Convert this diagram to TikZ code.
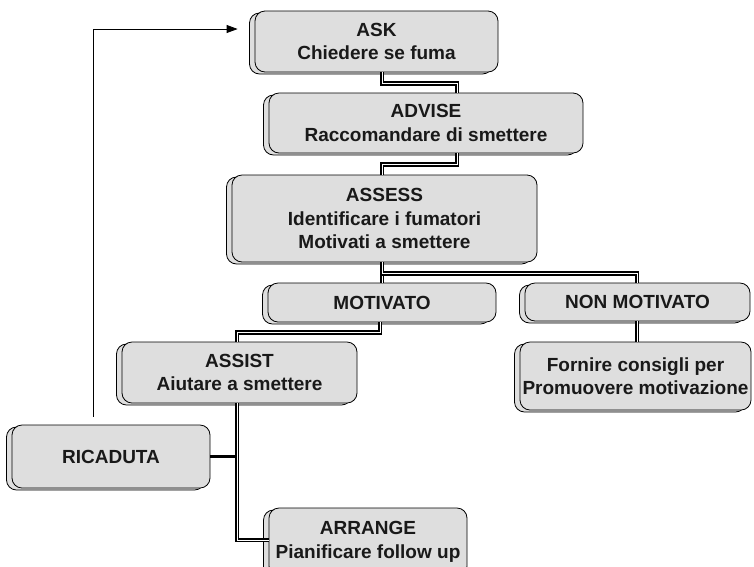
\documentclass[tikz,border=0pt]{standalone}
\usepackage{fontspec}
\setmainfont{Liberation Sans}
\usetikzlibrary{shadows,arrows.meta,calc}
\begin{document}
\begin{tikzpicture}[x=1pt,y=-1pt,
  box/.style={draw=black, line width=0.8pt, fill=black!13, rounded corners=10pt,
    align=center, inner sep=0pt, text=black!90,
    font=\fontsize{19}{23.5}\selectfont\bfseries,
    copy shadow={shadow xshift=-5.5pt, shadow yshift=-2pt, fill=black!13, draw=black, line width=0.8pt}},
  conn/.style={draw=black, line width=1.6pt, double=white, double distance=1pt, line join=miter},
  bar/.style={draw=black, line width=2.8pt},
  fb/.style={draw=black, line width=0.8pt, -{Triangle[length=11pt,width=8pt]}},
]
\useasboundingbox (0,0) rectangle (754,566);

\node[box, minimum width=243pt, minimum height=61pt] (ask) at (376.5,41.5) {ASK\\Chiedere se fuma};
\node[box, minimum width=314pt, minimum height=60pt] (advise) at (426,123) {ADVISE\\Raccomandare di smettere};
\node[box, minimum width=305pt, minimum height=87pt] (assess) at (384.5,218.5) {ASSESS\\Identificare i fumatori\\Motivati a smettere};
\node[box, minimum width=228pt, minimum height=39pt] (motivato) at (382,302.5) {MOTIVATO};
\node[box, minimum width=225pt, minimum height=38pt] (nonmot) at (637.5,302) {NON MOTIVATO};
\node[box, minimum width=231pt, minimum height=68pt] (fornire) at (635.5,376) {Fornire consigli per\\Promuovere motivazione};
\node[box, minimum width=235pt, minimum height=61pt] (assist) at (239.5,372.5) {ASSIST\\Aiutare a smettere};
\node[box, minimum width=198pt, minimum height=63pt] (ricaduta) at (111,456.5) {RICADUTA};
\node[box, minimum width=198pt, minimum height=68pt] (arrange) at (368,542) {ARRANGE\\Pianificare follow up};

\coordinate (asb) at ([xshift=-2.5pt]assist.south);
\draw[bar] (ricaduta.east) -- ($(ricaduta.east -| asb)+(-1.5,0)$);

% connectors
\draw[conn] ([xshift=5.5pt]ask.south) -- ++(0,11) -| ([xshift=31pt]advise.north);
\draw[conn] ([xshift=31pt]advise.south) -- ++(0,11) -| ([xshift=-2.5pt]assess.north);
\draw[conn] ([xshift=-2.5pt]assess.south) -- (motivato.north);
\draw[conn] ([xshift=-2.5pt]assess.south) -- ++(0,11) -| ([xshift=-0.5pt]nonmot.north);
\draw[conn] ([xshift=-0.5pt]nonmot.south) -- ([xshift=1.5pt]fornire.north);
\draw[conn] ([xshift=-2pt]motivato.south) -- ++(0,10) -| ([xshift=-2.5pt]assist.north);
\draw[conn] (asb) |- ([yshift=2pt]arrange.west);

% feedback
\draw[fb] ([xshift=-18pt,yshift=8pt]ricaduta.north) |- ([xshift=-17pt,yshift=12.5pt]ask.west);
\end{tikzpicture}
\end{document}
